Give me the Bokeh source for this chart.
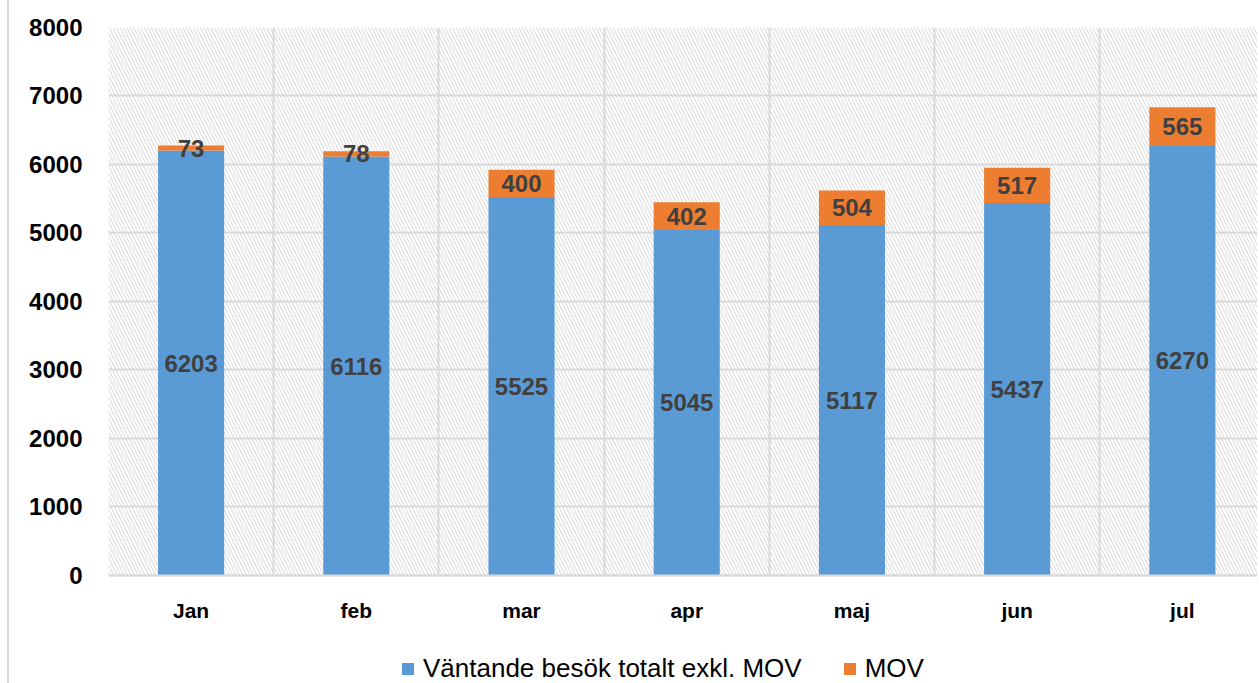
from bokeh.plotting import figure
from bokeh.models import ColumnDataSource, FixedTicker, BoxAnnotation, Range1d
from bokeh.core.properties import value
from bokeh.embed import file_html
from bokeh.resources import INLINE

months = ["Jan", "feb", "mar", "apr", "maj", "jun", "jul"]
base_vals = [6203, 6116, 5525, 5045, 5117, 5437, 6270]
mov_vals = [73, 78, 400, 402, 504, 517, 565]
series_names = ["Väntande besök totalt exkl. MOV", "MOV"]
y_ticks = [0, 1000, 2000, 3000, 4000, 5000, 6000, 7000, 8000]

BLUE = "#5B9BD5"
ORANGE = "#ED7D31"
GRID = "#d9d9d9"
FONT = "Liberation Sans"

xs = list(range(len(months)))
src = ColumnDataSource(dict(x=xs, base=base_vals, mov=mov_vals))

# frame runs to the bottom of the page; value 0 sits 108px above it
p = figure(width=1250, height=683, output_backend="svg", toolbar_location=None,
           x_range=Range1d(-0.5, 6.467), y_range=Range1d(-1577, 8000),
           min_border_left=99, min_border_top=27, min_border_bottom=0,
           min_border_right=0, outline_line_color=None,
           styles={"border-left": "2px solid #d9d9d9", "margin-left": "7px"})

# hatched plot-area background (from 0 upwards)
hatch = BoxAnnotation(bottom=0, fill_alpha=0, line_alpha=0, hatch_pattern="\\",
                      hatch_color="#d6d6d6", hatch_scale=7, hatch_weight=1,
                      level="underlay")
p.center = [hatch] + list(p.center)

rs = p.vbar_stack(["base", "mov"], x="x", width=0.4, color=[BLUE, ORANGE],
                  source=src, legend_label=series_names, line_width=0)

# data labels at segment centers
lab_base_y = [b / 2 for b in base_vals]
lab_mov_y = [b + m / 2 for b, m in zip(base_vals, mov_vals)]
lsrc = ColumnDataSource(dict(
    x=xs + xs,
    y=lab_base_y + lab_mov_y,
    t=[str(v) for v in base_vals] + [str(v) for v in mov_vals]))
p.text(x="x", y="y", text="t", source=lsrc, text_align="center",
       text_baseline="middle", text_font=value(FONT), text_font_style="bold",
       text_font_size="24px", text_color="#404040")

# axes
p.xaxis.fixed_location = 0
p.xaxis.ticker = FixedTicker(ticks=xs)
p.xaxis.major_label_overrides = {i: m for i, m in enumerate(months)}
p.xaxis.major_label_text_font = FONT
p.xaxis.major_label_text_font_style = "bold"
p.xaxis.major_label_text_font_size = "21px"
p.xaxis.major_label_text_color = "#000000"
p.xaxis.major_label_standoff = 18
p.xaxis.major_tick_line_color = None
p.xaxis.minor_tick_line_color = None
p.xaxis.axis_line_color = GRID
p.xaxis.axis_line_width = 2

p.yaxis.ticker = FixedTicker(ticks=y_ticks)
p.yaxis.major_label_text_font = FONT
p.yaxis.major_label_text_font_style = "bold"
p.yaxis.major_label_text_font_size = "24px"
p.yaxis.major_label_text_color = "#000000"
p.yaxis.major_label_standoff = 20
p.yaxis.major_tick_line_color = None
p.yaxis.minor_tick_line_color = None
p.yaxis.axis_line_color = None

p.ygrid.ticker = FixedTicker(ticks=y_ticks)
p.ygrid.grid_line_color = GRID
p.ygrid.grid_line_width = 2
p.xgrid.ticker = FixedTicker(ticks=[i - 0.5 for i in range(len(months) + 1)])
p.xgrid.grid_line_color = GRID
p.xgrid.grid_line_width = 2
p.xgrid.cross_bounds = (0, 8000)

# legend near the bottom of the frame
leg = p.legend[0]
leg.orientation = "horizontal"
leg.location = (292, -1)
leg.background_fill_alpha = 0
leg.border_line_color = None
leg.padding = 0
leg.margin = 0
leg.spacing = 40
leg.label_standoff = 8
leg.glyph_width = 15
leg.glyph_height = 15
leg.label_text_font = FONT
leg.label_text_font_size = "26px"
leg.label_text_color = "#000000"

open("out.html", "w").write(file_html(p, INLINE))
